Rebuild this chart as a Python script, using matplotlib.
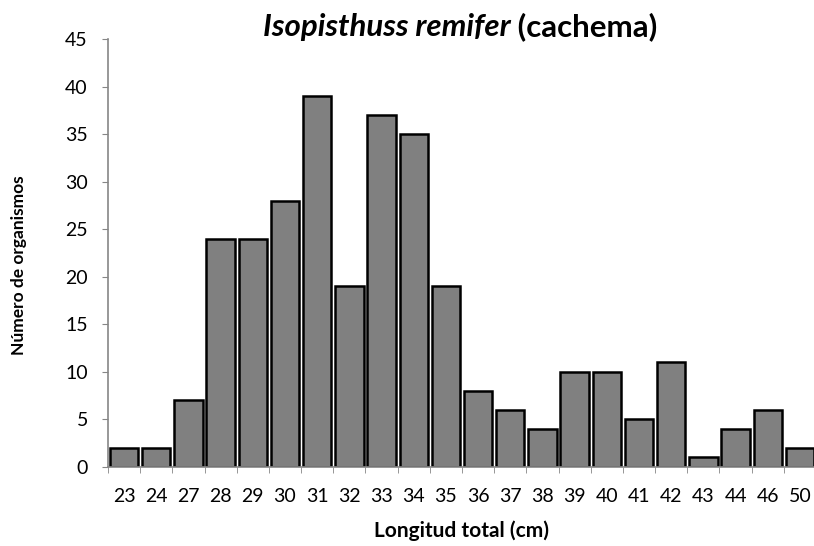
import matplotlib.pyplot as plt
import numpy as np

plt.rcParams['font.family'] = ['Lato', 'DejaVu Sans']

# longitud total (cm) y numero de organismos
tallas = ['23', '24', '27', '28', '29', '30', '31', '32', '33', '34', '35',
          '36', '37', '38', '39', '40', '41', '42', '43', '44', '46', '50']
conteo = [2, 2, 7, 24, 24, 28, 39, 19, 37, 35, 19,
          8, 6, 4, 10, 10, 5, 11, 1, 4, 6, 2]

fig = plt.figure(figsize=(8.14, 5.46), dpi=100)
ax = fig.add_axes([108 / 814, 1 - 467 / 546, 708 / 814, 428 / 546])

x = np.arange(len(tallas))
ax.bar(x, conteo, width=0.88, color='#808080', edgecolor='black', linewidth=1.8)

ax.set_xlim(-0.5, len(tallas) - 0.5)
ax.set_ylim(0, 45)
ax.set_yticks(np.arange(0, 46, 5))
ax.set_xticks(x)
ax.set_xticklabels(tallas)
ax.set_xticks(np.arange(-0.5, len(tallas), 1), minor=True)
ax.tick_params(axis='x', which='major', length=0, pad=15, labelsize=14)
ax.tick_params(axis='x', which='minor', length=4.5, color='#868686', direction='out')
ax.tick_params(axis='y', length=4.5, color='#868686', labelsize=14, pad=10)

for s in ['top', 'right']:
    ax.spines[s].set_visible(False)
for s in ['left', 'bottom']:
    ax.spines[s].set_color('#868686')
    ax.spines[s].set_linewidth(1.2)

fig.text(19 / 814, 1 - 265 / 546, 'Número de organismos', rotation=90,
         ha='center', va='center', fontsize=12.5, fontweight='bold')
fig.text(462 / 814, 1 - 537 / 546, 'Longitud total (cm)',
         ha='center', va='baseline', fontsize=15, fontweight='bold')

# titulo: nombre cientifico en cursiva
ty = 1 - 36 / 546
t1 = fig.text(0, ty, 'Isopisthuss remifer', fontsize=22.5, fontweight='bold',
              fontstyle='italic', ha='left', va='baseline')
t2 = fig.text(0, ty, ' (cachema)', fontsize=22.5, fontweight='bold',
              ha='left', va='baseline')
fig.canvas.draw()
r = fig.canvas.get_renderer()
w1 = t1.get_window_extent(r).width
w2 = t2.get_window_extent(r).width
x0 = 460 - (w1 + w2) / 2
t1.set_x(x0 / 814)
t2.set_x((x0 + w1) / 814)

fig.savefig('out.png', dpi=100)
